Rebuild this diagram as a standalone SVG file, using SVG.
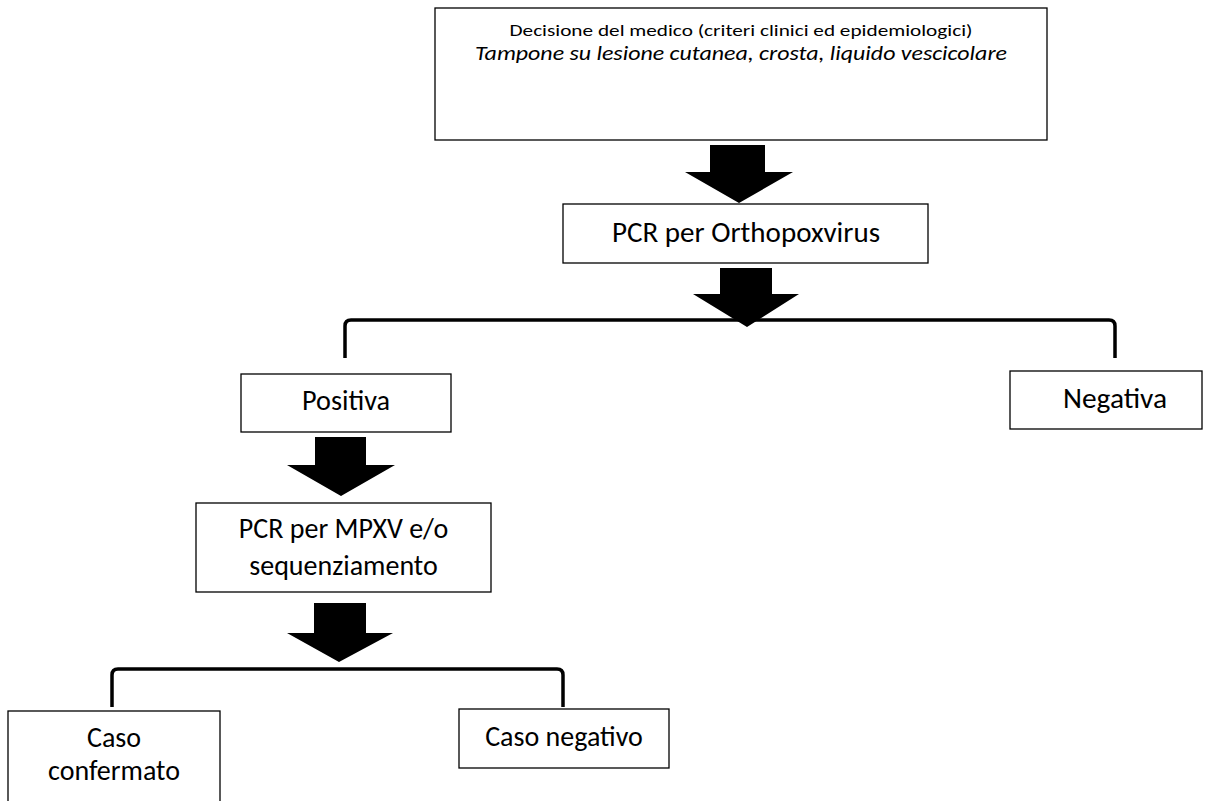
<svg xmlns="http://www.w3.org/2000/svg" width="1212" height="801" viewBox="0 0 1212 801">
<style>
.box{fill:#fff;stroke:#000;stroke-width:1.3}
.t{font-family:Calibri,Carlito,Lato,"Liberation Sans",sans-serif;fill:#000;text-anchor:middle}
.big{font-size:28px}
.arrow{fill:#000;stroke:none}
.br{fill:none;stroke:#000;stroke-width:3.5;stroke-linejoin:round}
</style>
<rect width="1212" height="801" fill="#fff"/>
<g id="connectors">
<polygon class="arrow" points="710,145 765,145 765,172 793,172 739,203 685,172 710,172"/>
<polygon class="arrow" points="720,268 772,268 772,294 799,294 747,327 693,294 720,294"/>
<path class="br" d="M345,358 L345,326 Q345,320 351,320 L1109,320 Q1115,320 1115,326 L1115,358"/>
<polygon class="arrow" points="315,437 366,437 366,465 395,465 341,496 287,465 315,465"/>
<polygon class="arrow" points="314,603 366,603 366,633 393,633 339,662 287,633 314,633"/>
<path class="br" d="M112,707 L112,675 Q112,669 118,669 L557,669 Q563,669 563,675 L563,707"/>
</g>
<g id="n-decisione">
<rect class="box" x="435" y="8" width="612" height="132"/>
<text class="t" x="741" y="36" font-size="17" textLength="463" lengthAdjust="spacingAndGlyphs">Decisione del medico (criteri clinici ed epidemiologici)</text>
<text class="t" x="741" y="60" font-size="20" font-style="italic" textLength="532" lengthAdjust="spacingAndGlyphs">Tampone su lesione cutanea, crosta, liquido vescicolare</text>
</g>
<g id="n-pcr-ortho">
<rect class="box" x="563" y="204" width="365" height="59"/>
<text class="t big" x="746" y="242" textLength="268" lengthAdjust="spacingAndGlyphs">PCR per Orthopoxvirus</text>
</g>
<g id="n-positiva">
<rect class="box" x="241" y="374" width="210" height="58"/>
<text class="t big" x="346" y="410" textLength="88" lengthAdjust="spacingAndGlyphs">Positiva</text>
</g>
<g id="n-negativa">
<rect class="box" x="1010" y="371" width="192" height="58"/>
<text class="t big" x="1115" y="408" textLength="104" lengthAdjust="spacingAndGlyphs">Negativa</text>
</g>
<g id="n-pcr-mpxv">
<rect class="box" x="196" y="503" width="295" height="89"/>
<text class="t big" x="343.5" y="538">PCR per MPXV e/o</text>
<text class="t big" x="343.5" y="575">sequenziamento</text>
</g>
<g id="n-confermato">
<rect class="box" x="8" y="711" width="212" height="100"/>
<text class="t big" x="114" y="747">Caso</text>
<text class="t big" x="114" y="780">confermato</text>
</g>
<g id="n-negativo">
<rect class="box" x="459" y="709" width="210" height="59"/>
<text class="t big" x="564" y="746">Caso negativo</text>
</g>
</svg>
